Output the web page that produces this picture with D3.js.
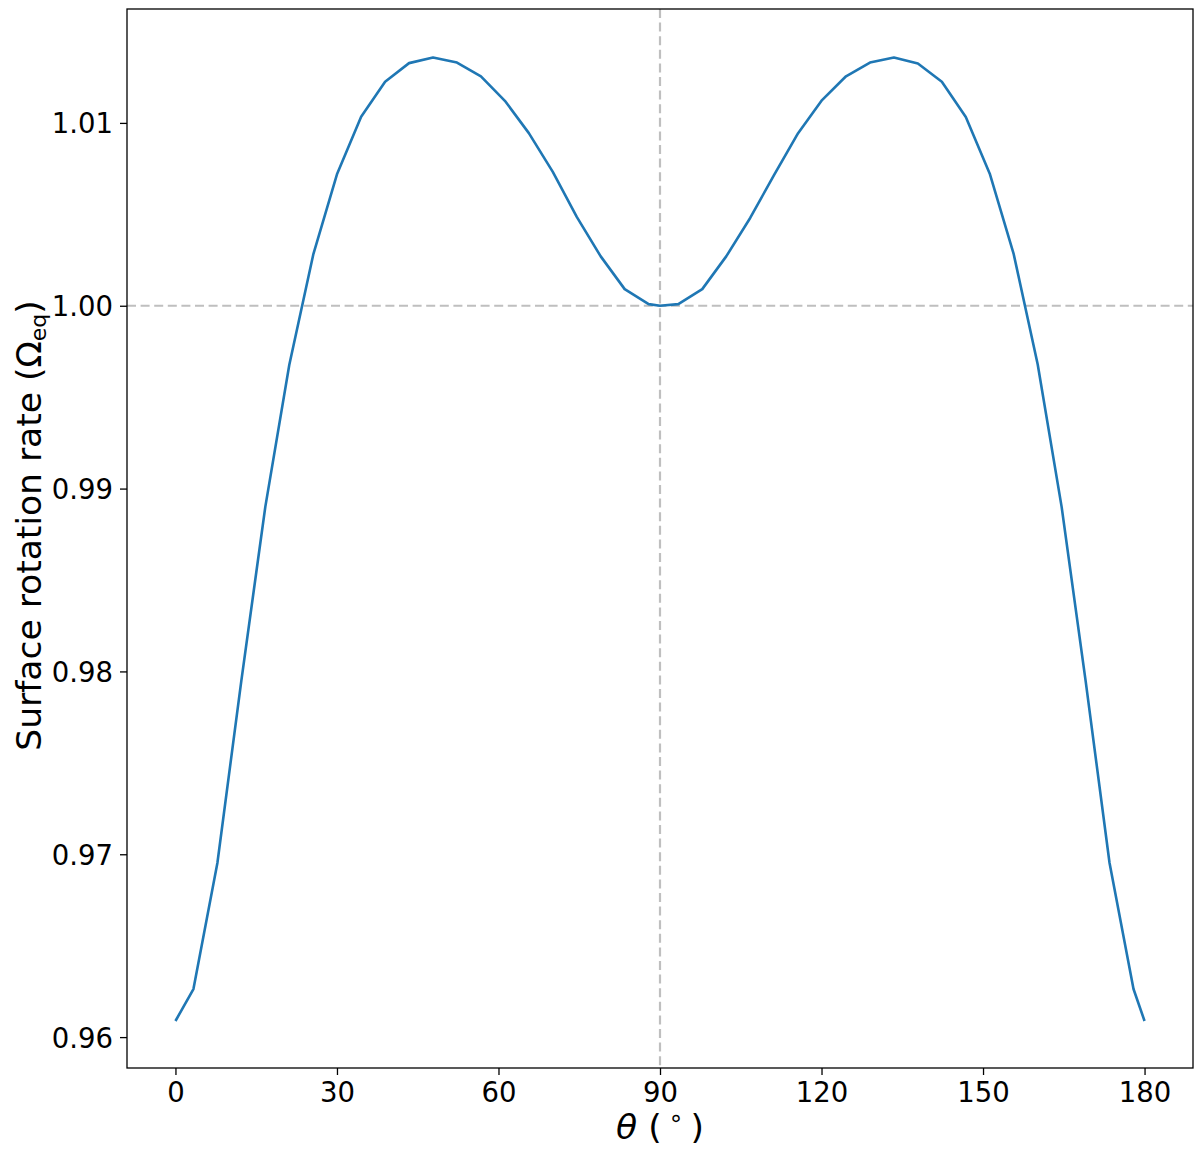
<!DOCTYPE html>
<html>
<head>
<meta charset="utf-8">
<script src="https://cdn.jsdelivr.net/npm/d3@7"></script>
<style>
  html, body { margin: 0; padding: 0; background: #fff; }
  svg text { font-family: "DejaVu Sans", sans-serif; fill: #000; }
</style>
</head>
<body>
<script>
// Colatitude theta (degrees) and surface rotation rate (units of Omega_eq)
const theta = [
  0, 3.34, 7.79, 12.24, 16.69, 21.14, 25.59, 30.04, 34.49, 38.94, 43.39,
  47.84, 52.29, 56.74, 61.19, 65.64, 70.09, 74.54, 78.99, 83.44, 87.89,
  90,
  93.40, 97.85, 102.30, 106.75, 111.20, 115.65, 120.10, 124.55, 129.00, 133.45,
  137.90, 142.35, 146.80, 151.25, 155.70, 160.15, 164.60, 169.05, 173.50, 177.95,
  180
];
const omega = [
  0.96088, 0.96263, 0.96952, 0.97950, 0.98900, 0.99676, 1.00279, 1.00722, 1.01034, 1.01225, 1.01327,
  1.01358, 1.01330, 1.01255, 1.01121, 1.00944, 1.00732, 1.00486, 1.00270, 1.00091, 1.00009,
  1.00000,
  1.00009, 1.00091, 1.00270, 1.00480, 1.00716, 1.00944, 1.01125, 1.01255, 1.01330, 1.01358,
  1.01325, 1.01225, 1.01032, 1.00722, 1.00282, 0.99680, 0.98900, 0.97950, 0.96952, 0.96263,
  0.96088
];
const xTicks = [0, 30, 60, 90, 120, 150, 180];
const yTicks = [0.96, 0.97, 0.98, 0.99, 1.00, 1.01];
const refTheta = 90;
const refOmega = 1.0;

(function () {
const W = 1200, H = 1155;
const mLeft = 127, mRight = 1193, mTop = 9, mBottom = 1068;

const svg = d3.select("body").append("svg")
  .attr("width", W).attr("height", H)
  .attr("viewBox", `0 0 ${W} ${H}`);

const x = d3.scaleLinear().domain([-9, 189]).range([mLeft, mRight]);
const y = d3.scaleLinear().domain([0.95831, 1.01623]).range([mBottom, mTop]);

// reference dashed lines
svg.append("line")
  .attr("x1", mLeft).attr("x2", mRight)
  .attr("y1", y(refOmega)).attr("y2", y(refOmega))
  .attr("stroke", "#bfbfbf").attr("stroke-width", 2.2)
  .attr("stroke-dasharray", "9,4.6");
svg.append("line")
  .attr("x1", x(refTheta)).attr("x2", x(refTheta))
  .attr("y1", mTop).attr("y2", mBottom)
  .attr("stroke", "#bfbfbf").attr("stroke-width", 2.2)
  .attr("stroke-dasharray", "9,4.6");

// curve
const data = theta.map((t, i) => [t, omega[i]]);
svg.append("path")
  .datum(data)
  .attr("fill", "none")
  .attr("stroke", "#1f77b4")
  .attr("stroke-width", 2.6)
  .attr("stroke-linejoin", "round")
  .attr("d", d3.line().x(d => x(d[0])).y(d => y(d[1])));

// axes
const xAxis = svg.append("g")
  .attr("transform", `translate(0,${mBottom})`)
  .call(d3.axisBottom(x).tickValues(xTicks).tickSize(7).tickPadding(7).tickFormat(d3.format("d")));
const yAxis = svg.append("g")
  .attr("transform", `translate(${mLeft},0)`)
  .call(d3.axisLeft(y).tickValues(yTicks).tickSize(7).tickPadding(7).tickFormat(d3.format(".2f")));

[xAxis, yAxis].forEach(g => {
  g.select(".domain").remove();
  g.selectAll(".tick line").attr("stroke", "#000").attr("stroke-width", 1.3);
  g.selectAll(".tick text").attr("font-size", 27.5).attr("font-family", "DejaVu Sans, sans-serif").attr("fill", "#000");
});
yAxis.selectAll(".tick text").attr("dy", "0.36em");

// frame
svg.append("rect")
  .attr("x", mLeft).attr("y", mTop)
  .attr("width", mRight - mLeft).attr("height", mBottom - mTop)
  .attr("fill", "none").attr("stroke", "#000").attr("stroke-width", 1.3);

// x label
const xl = svg.append("text")
  .attr("x", (mLeft + mRight) / 2).attr("y", 1139)
  .attr("text-anchor", "middle").attr("font-size", 34.5);
xl.append("tspan").attr("font-style", "italic").text("θ");
xl.append("tspan").text(" (\u2009");
xl.append("tspan").attr("font-size", 24).attr("dy", -13).text("∘");
xl.append("tspan").attr("dy", 13).text("\u2009)");

// y label
const yl = svg.append("text")
  .attr("transform", `translate(41,${(mTop + mBottom) / 2 - 13}) rotate(-90)`)
  .attr("text-anchor", "middle").attr("font-size", 34.5);
yl.append("tspan").text("Surface rotation rate (Ω");
yl.append("tspan").attr("font-size", 22).attr("dy", 5).text("eq");
yl.append("tspan").attr("dy", -5).text(")");
})();
</script>
</body>
</html>
